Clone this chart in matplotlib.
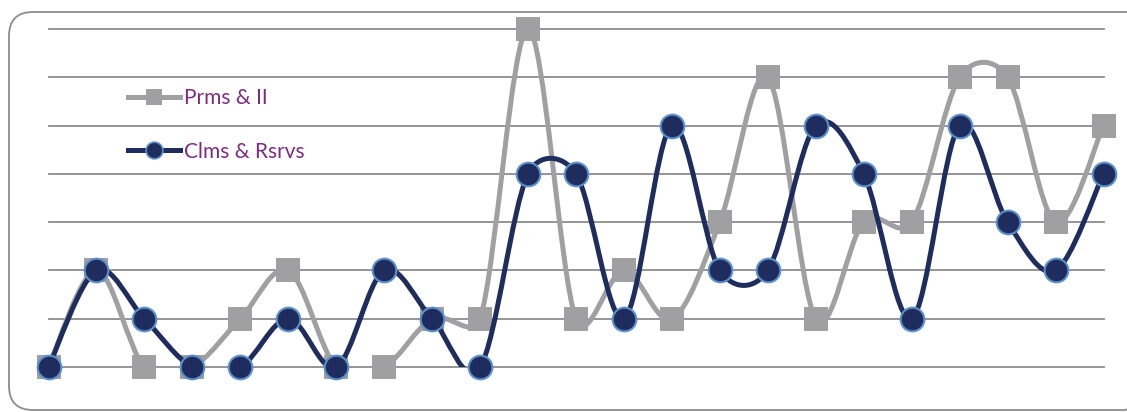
import numpy as np
import matplotlib.pyplot as plt
from matplotlib.path import Path
from matplotlib.patches import PathPatch, FancyBboxPatch
from matplotlib.lines import Line2D

# values (grid steps, 0 = bottom line)
prms_ii = [0, 2, 0, 0, 1, 2, 0, 0, 1, 1, 7, 1, 2, 1, 3, 6, 1, 3, 3, 6, 6, 3, 5]
clms_rsrvs = [0, 2, 1, 0, 0, 1, 0, 2, 1, 0, 4, 4, 1, 5, 2, 2, 5, 4, 1, 5, 3, 2, 4]
labels = ['Prms & II', 'Clms & Rsrvs']

gray = '#A0A0A3'
navy = '#1F2D5E'
edge_blue = '#5B8FC9'
purple = '#7B2C80'
grid_c = '#8C8C8C'


def smooth_path(ax, ys):
    # Excel style smoothed line: bezier arms of 1/6 the neighbour chord,
    # capped at half the segment length, worked out in screen pixels
    pts = ax.transData.transform(np.column_stack([np.arange(len(ys)), ys]))
    n = len(pts)
    verts = [pts[0]]
    codes = [Path.MOVETO]

    def arm(a, b, seg):
        v = (b - a) / 6
        d = np.hypot(*(b - a))
        if d > 0 and d / 6 > seg / 2:
            v = (b - a) * seg / (2 * d)
        return v

    for i in range(n - 1):
        p0 = pts[max(i - 1, 0)]
        p1 = pts[i]
        p2 = pts[i + 1]
        p3 = pts[min(i + 2, n - 1)]
        seg = np.hypot(*(p2 - p1))
        c1 = p1 + arm(p0, p2, seg)
        c2 = p2 - arm(p1, p3, seg)
        verts += [c1, c2, p2]
        codes += [Path.CURVE4] * 3
    verts = ax.transData.inverted().transform(np.array(verts))
    return Path(verts, codes)


fig = plt.figure(figsize=(11.27, 4.12), dpi=100)
W, H = 1127, 412

# rounded frame, drawn in a pixel-space overlay
bg = fig.add_axes([0, 0, 1, 1])
bg.set_xlim(0, W)
bg.set_ylim(H, 0)
bg.axis('off')
bg.add_patch(FancyBboxPatch((9, 12), 1140, 398,
                            boxstyle='round,pad=0,rounding_size=24',
                            fill=False, edgecolor=grid_c, linewidth=1.3))

ax = fig.add_axes([48.5 / W, 1 - 367 / H, 1055 / W, 338 / H])
ax.set_xlim(0, len(prms_ii) - 1)
ax.set_ylim(0, 7)
for lvl in range(8):
    ax.axhline(lvl, color=grid_c, linewidth=1.3, zorder=1, clip_on=False)
ax.axis('off')

x = np.arange(len(prms_ii))

# lines are clipped to the plot area (the dips below 0 vanish), markers are not
ax.add_patch(PathPatch(smooth_path(ax, prms_ii), fill=False, edgecolor=gray,
                       linewidth=3.6, zorder=2))
ax.plot(x, prms_ii, ls='none', marker='s', markersize=17, color=gray,
        markeredgewidth=0, zorder=3, clip_on=False)

ax.add_patch(PathPatch(smooth_path(ax, clms_rsrvs), fill=False, edgecolor=navy,
                       linewidth=3.6, zorder=4))
ax.plot(x, clms_rsrvs, ls='none', marker='o', markersize=17, color=navy,
        markeredgecolor=edge_blue, markeredgewidth=1.5, zorder=5, clip_on=False)

handles = [
    Line2D([], [], color=gray, linewidth=3.6, marker='s', markersize=12,
           markeredgewidth=0),
    Line2D([], [], color=navy, linewidth=3.6, marker='o', markersize=12,
           markeredgecolor=edge_blue, markeredgewidth=1.2),
]
leg = fig.legend(handles, labels, loc='center left',
                 bbox_to_anchor=(128 / W, 1 - 125 / H), frameon=False,
                 prop={'family': 'Lato', 'size': 15}, labelcolor=purple,
                 handlelength=2.5, handletextpad=0.2, labelspacing=1.6,
                 borderpad=0, borderaxespad=0)

fig.savefig('out.png', dpi=100)
